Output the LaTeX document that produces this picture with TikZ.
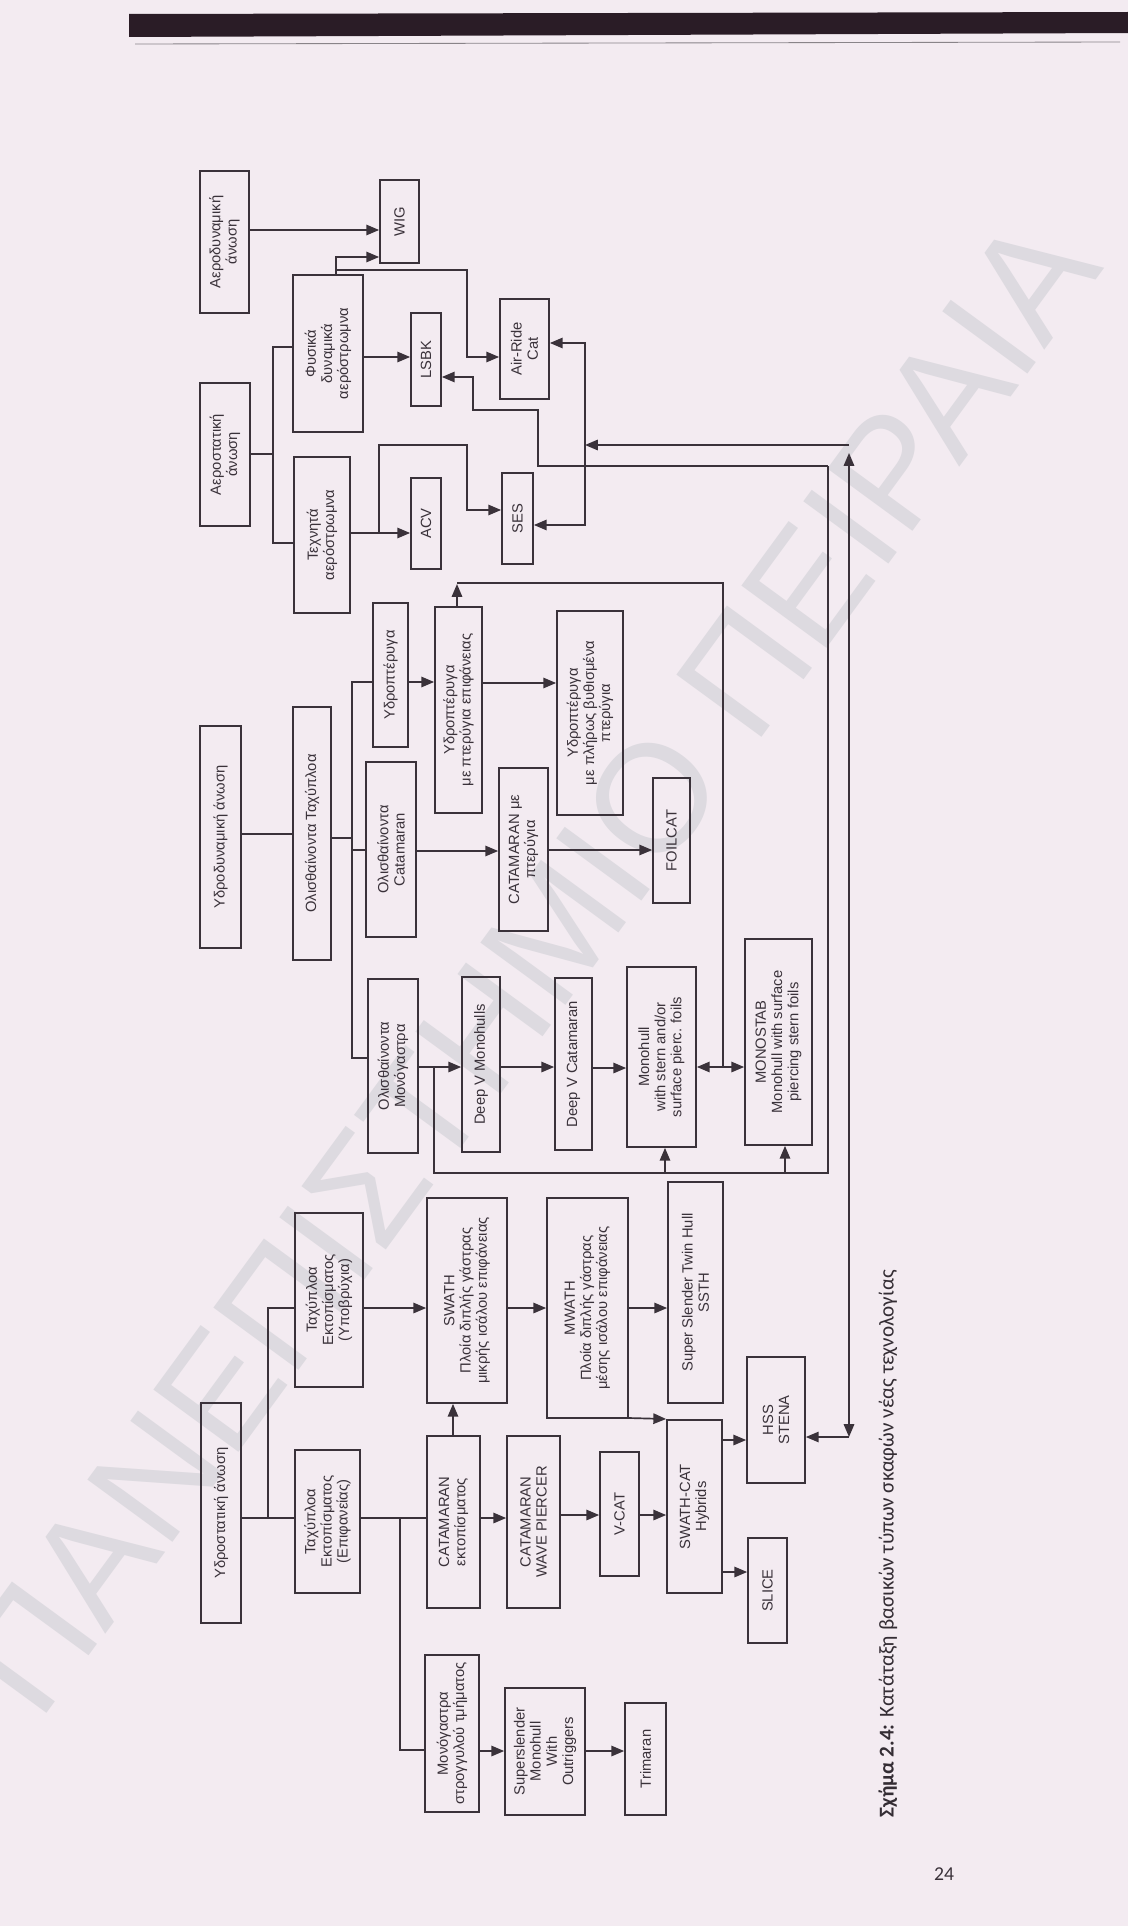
\documentclass[tikz,border=0pt]{standalone}
\usepackage{fontspec}
\setmainfont{Liberation Sans}
\newfontfamily\capfont{Carlito}
\usetikzlibrary{arrows.meta}
\definecolor{paper}{RGB}{243,235,241}
\definecolor{ink}{RGB}{58,50,58}
\definecolor{wm}{RGB}{221,218,224}
\definecolor{topbar}{RGB}{42,28,38}
\begin{document}
\begin{tikzpicture}[x=0.025cm,y=-0.025cm,
  bx/.style={draw=ink, line width=1.2pt, rotate=90, align=center, inner sep=1pt,
             text=ink, font=\fontsize{10.5}{11.5}\selectfont},
  sz/.style 2 args={minimum width=#1*0.025cm, minimum height=#2*0.025cm},
  ln/.style={draw=ink, line width=1.2pt},
  tip/.tip={Triangle[length=0.32cm,width=0.26cm]},
  ar/.style={ln, -tip},
  dar/.style={ln, tip-tip}]
\useasboundingbox (0,0) rectangle (1128,1926);
\fill[paper] (0,0) rectangle (1128,1926);
% header bar
\fill[topbar] (129,14) -- (1128,12) -- (1128,33) -- (129,37) -- cycle;
\draw[ink!60, line width=0.6pt] (135,44) -- (1120,42);
% watermark
\node[rotate=53.8, text=wm, font=\fontsize{109}{109}\selectfont] (wmk) at (530,965) {ΠΑΝΕΠΙΣΤΗΜΙΟ ΠΕΙΡΑΙΑ};

% ---- boxes ----
\node[bx, sz={142}{49}] (aerodyn) at (224.5,242) {Αεροδυναμική\\άνωση};
\node[bx, sz={83}{39}] (wig) at (399.5,221.5) {WIG};
\node[bx, sz={157}{70}] (fysika) at (328,353.5) {Φυσικά\\δυναμικά\\αερόστρωμνα};
\node[bx, sz={93}{30}] (lsbk) at (426,359.5) {LSBK};
\node[bx, sz={100}{49}] (airride) at (524.5,349) {Air-Ride\\Cat};
\node[bx, sz={143}{50}] (aerostat) at (225,454.5) {Αεροστατική\\άνωση};
\node[bx, sz={156}{56}] (texnita) at (322,535) {Τεχνητά\\αερόστρωμνα};
\node[bx, sz={91}{30}] (acv) at (426,523.5) {ACV};
\node[bx, sz={91}{31}] (ses) at (517.5,518.5) {SES};
\node[bx, sz={222}{41}] (hydrodyn) at (220.5,837) {Υδροδυναμική άνωση};
\node[bx, sz={253}{38}] (olisth) at (312,833.5) {Ολισθαίνοντα Ταχύπλοα};
\node[bx, sz={144}{35}] (ydropt) at (390.5,675) {Υδροπτέρυγα};
\node[bx, sz={206}{47}] (ydropt2) at (458.5,710) {Υδροπτέρυγα\\με πτερύγια επιφάνειας};
\node[bx, sz={204}{66}] (ydropt3) at (590,713) {Υδροπτέρυγα\\με πλήρως βυθισμένα\\πτερύγια};
\node[bx, sz={175}{50}] (olcat) at (391,849.5) {Ολισθαίνοντα\\Catamaran};
\node[bx, sz={163}{49}] (catpt) at (523.5,849.5) {CATAMARAN με\\πτερύγια};
\node[bx, sz={125}{37}] (foilcat) at (671.5,840.5) {FOILCAT};
\node[bx, sz={174}{50}] (olmono) at (393,1066) {Ολισθαίνοντα\\Μονόγαστρα};
\node[bx, sz={175}{38}] (deepvm) at (481,1064.5) {Deep V Monohulls};
\node[bx, sz={172}{37}] (deepvc) at (573.5,1064) {Deep V Catamaran};
\node[bx, sz={180}{69}] (monohull) at (661.5,1057) {Monohull\\with stern and/or\\surface pierc. foils};
\node[bx, sz={206}{67}] (monostab) at (778.5,1042) {MONOSTAB\\Monohull with surface\\piercing stern foils};
\node[bx, sz={174}{68}] (taxyp) at (329,1300) {Ταχύπλοα\\Εκτοπίσματος\\(Υποβρύχια)};
\node[bx, sz={205}{80}] (swath) at (467,1300.5) {SWATH\\Πλοία διπλής γάστρας\\μικρής ισάλου επιφάνειας};
\node[bx, sz={220}{81}] (mwath) at (587.5,1308) {MWATH\\Πλοία διπλής γάστρας\\μέσης ισάλου επιφάνειας};
\node[bx, sz={221}{55}] (ssth) at (695.5,1292.5) {Super Slender Twin Hull\\SSTH};
\node[bx, sz={220}{40}] (hydrostat) at (221,1513) {Υδροστατική άνωση};
\node[bx, sz={143}{65}] (taxepif) at (327.5,1521.5) {Ταχύπλοα\\Εκτοπίσματος\\(Επιφανείας)};
\node[bx, sz={172}{53}] (catekt) at (453.5,1522) {CATAMARAN\\εκτοπίσματος};
\node[bx, sz={172}{53}] (catwp) at (533.5,1522) {CATAMARAN\\WAVE PIERCER};
\node[bx, sz={124}{39}] (vcat) at (619.5,1514) {V-CAT};
\node[bx, sz={173}{55}] (swathcat) at (694.5,1506.5) {SWATH-CAT\\Hybrids};
\node[bx, sz={126}{58}] (hss) at (776,1420) {HSS\\STENA};
\node[bx, sz={105}{39}] (slice) at (767.5,1590.5) {SLICE};
\node[bx, sz={157}{54}] (mono) at (452,1733.5) {Μονόγαστρα\\στρογγυλού τμήματος};
\node[bx, sz={127}{80}] (supersl) at (545,1751.5) {Superslender\\Monohull\\With\\Outriggers};
\node[bx, sz={112}{41}] (trimaran) at (645.5,1759) {Trimaran};

% ---- junction coordinates ----
\coordinate (jA) at (336,270);
\coordinate (jB) at (585,445);
\coordinate (jC) at (849,445);
\coordinate (jD) at (849,1437);
\coordinate (jE) at (828,466);
\coordinate (jF) at (379,533);
\coordinate (jG) at (273,454);
\coordinate (jH) at (352,838);
\coordinate (jI) at (723,1067);
\coordinate (jK) at (434,1067);
\coordinate (jL) at (268,1518);
\coordinate (jM) at (400,1518);

% ---- connectors: air ----
\draw[ar] (aerodyn.south |- 0,230) -- (wig.north |- 0,230);
\draw[ar] (fysika.east -| jA) -- (336,257) -- (wig.north |- 0,257);
\draw[ar] (jA) -- (467,270) -- (467,357) -- (airride.north |- 0,357);
\draw[ar] (fysika.south |- 0,357) -- (lsbk.north |- 0,357);
\draw[ar] (jE) -- (538,466) -- (538,410) -- (473,410) -- (473,377) -- (lsbk.south |- 0,377);
\draw[ln] (aerostat.south |- jG) -- (jG);
\draw[ln] (fysika.north |- 0,347) -- (273,347) -- (273,543) -- (texnita.north |- 0,543);
\draw[ar] (texnita.south |- jF) -- (acv.north |- jF);
\draw[ar] (jF) -- (379,445) -- (467,445) -- (467,510) -- (ses.north |- 0,510);
\draw[ar] (jB) -- (585,343) -- (airride.south |- 0,343);
\draw[ar] (jB) -- (585,525) -- (ses.south |- 0,525);
\draw[ar] (jC) -- (jB);
\draw[dar] ([yshift=-0.2cm]jC) -- (jD);
\draw[ar] (jD) -- (hss.south |- jD);

% ---- connectors: hydrodynamic ----
\draw[ln] (hydrodyn.south |- 0,834) -- (olisth.north |- 0,834);
\draw[ln] (olisth.south |- jH) -- (jH);
\draw[ln] (ydropt.north |- 0,682) -- (352,682) -- (352,1058) -- (olmono.north |- 0,1058);
\draw[ln] (352,850) -- (olcat.north |- 0,850);
\draw[ar] (ydropt.south |- 0,682) -- (ydropt2.north |- 0,682);
\draw[ar] (ydropt2.south |- 0,683) -- (ydropt3.north |- 0,683);
\draw[ar] (ydropt2.east -| 457,0) -- (457,584);
\draw[ln] (457,583) -- (723,583) -- (jI);
\draw[dar] (monohull.south |- jI) -- (monostab.north |- jI);
\draw[ar] (olcat.south |- 0,851) -- (catpt.north |- 0,851);
\draw[ar] (catpt.south |- 0,850) -- (foilcat.north |- 0,850);
\draw[ar] (olmono.south |- jK) -- (deepvm.north |- jK);
\draw[ar] (deepvm.south |- jK) -- (deepvc.north |- jK);
\draw[ar] (deepvc.south |- 0,1068) -- (monohull.north |- 0,1068);
\draw[ln] (jK) -- (434,1173) -- (828,1173) -- (jE);
\draw[ar] (665,1173) -- (monohull.west -| 665,0);
\draw[ar] (785,1173) -- (monostab.west -| 785,0);

% ---- connectors: hydrostatic ----
\draw[ln] (hydrostat.south |- jL) -- (taxepif.north |- jL);
\draw[ln] (jL) -- (268,1308) -- (taxyp.north |- 0,1308);
\draw[ar] (taxyp.south |- 0,1308) -- (swath.north |- 0,1308);
\draw[ar] (swath.south |- 0,1308) -- (mwath.north |- 0,1308);
\draw[ar] (mwath.south |- 0,1308) -- (ssth.north |- 0,1308);
\draw[ln] (taxepif.south |- jM) -- (catekt.north |- jM);
\draw[ln] (jM) -- (400,1750) -- (mono.north |- 0,1750);
\draw[ar] (catekt.east -| 453,0) -- (swath.west -| 453,0);
\draw[ar] (catekt.south |- jM) -- (catwp.north |- jM);
\draw[ar] (catwp.south |- 0,1515) -- (vcat.north |- 0,1515);
\draw[ar] (vcat.south |- 0,1515) -- (swathcat.north |- 0,1515);
\draw[ar] (mwath.south |- 0,1418) -- (swathcat.north |- 0,1419);
\draw[ar] (swathcat.south |- 0,1440) -- (hss.north |- 0,1440);
\draw[ar] (swathcat.south |- 0,1572) -- (slice.north |- 0,1572);
\draw[ar] (mono.south |- 0,1751) -- (supersl.north |- 0,1751);
\draw[ar] (supersl.south |- 0,1751) -- (trimaran.north |- 0,1751);

% ---- caption and page number ----
\node[rotate=90, anchor=west, text=ink!90!black, font=\capfont\fontsize{15}{15}\selectfont] (cap) at (888,1822)
  {\textbf{Σχήμα 2.4:} Κατάταξη βασικών τύπων σκαφών νέας τεχνολογίας};
\node[text=ink, font=\capfont\fontsize{14}{14}\selectfont] (pg) at (944,1874) {24};
\end{tikzpicture}
\end{document}
